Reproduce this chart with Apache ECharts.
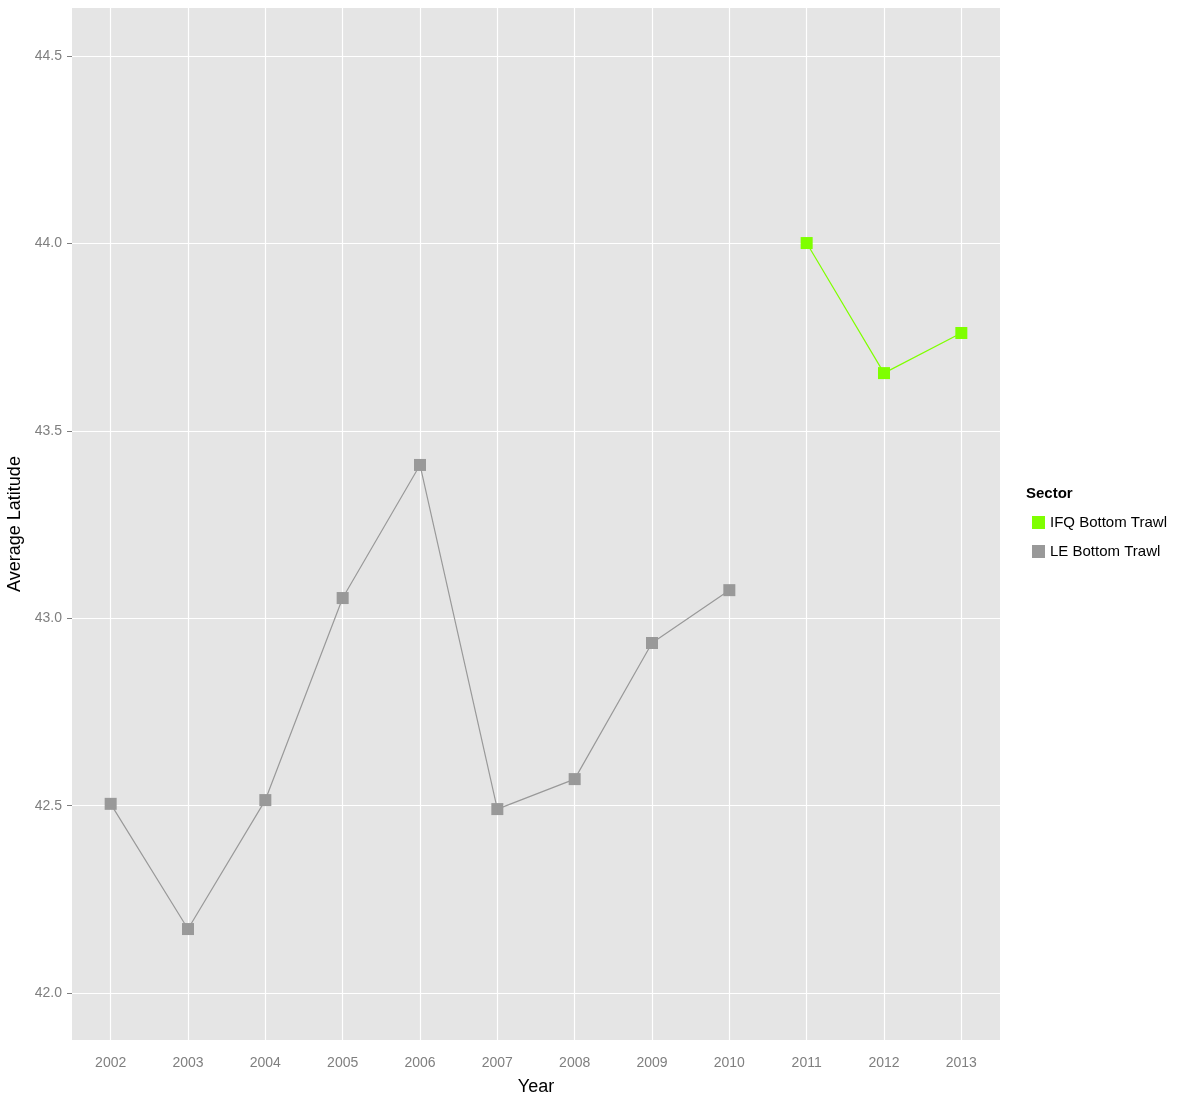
<!DOCTYPE html>
<html><head><meta charset="utf-8">
<script src="https://cdn.jsdelivr.net/npm/echarts@6/dist/echarts.min.js"></script>
<style>html,body{margin:0;padding:0;background:#fff}#main{width:1196px;height:1099px}</style>
</head><body><div id="main"></div>
<script>
const years = ['2002','2003','2004','2005','2006','2007','2008','2009','2010','2011','2012','2013'];
const leValues = [42.505, 42.171, 42.515, 43.054, 43.409, 42.491, 42.571, 42.934, 43.075, null, null, null];
const ifqValues = [null, null, null, null, null, null, null, null, null, 44.001, 43.654, 43.761];
const yTicks = [42.0, 42.5, 43.0, 43.5, 44.0, 44.5];

let chart = echarts.init(document.getElementById('main'));
let grid = { color: '#fff', width: 1.2, type: 'solid' };
let gridLines = years.map(y => ({ xAxis: y })).concat(yTicks.map(v => ({ yAxis: v })));
chart.setOption({
    animation: false,
    textStyle: { fontFamily: 'Liberation Sans, Arial, sans-serif' },
    grid: { left: 72, right: 196, top: 8, bottom: 59, show: true, backgroundColor: '#e5e5e5', borderWidth: 0,
        containLabel: false, outerBoundsMode: 'none' },
    xAxis: {
        type: 'category', data: years, boundaryGap: true,
        name: 'Year', nameLocation: 'middle', nameGap: 38,
        nameTextStyle: { fontSize: 18, color: '#000' },
        axisLine: { show: false },
        axisTick: { alignWithLabel: true, length: 5, lineStyle: { color: '#7f7f7f' } },
        axisLabel: { fontSize: 14, color: '#7f7f7f', margin: 16 },
        splitLine: { show: false }
    },
    yAxis: {
        type: 'value', min: 41.875, max: 44.628,
        name: 'Average Latitude', nameLocation: 'middle', nameGap: 46,
        nameTextStyle: { fontSize: 18, color: '#000' },
        axisLine: { show: false },
        axisTick: { show: true, length: 5, customValues: yTicks, lineStyle: { color: '#7f7f7f' } },
        axisLabel: { fontSize: 14, color: '#7f7f7f', margin: 10, customValues: yTicks, formatter: v => v.toFixed(1) },
        splitLine: { show: false }
    },
    legend: {
        orient: 'vertical', left: 1027, top: 510, itemGap: 14,
        icon: 'rect', itemWidth: 13, itemHeight: 13,
        textStyle: { fontSize: 15, color: '#000' },
        data: ['IFQ Bottom Trawl', 'LE Bottom Trawl']
    },
    graphic: [{ type: 'text', left: 1026, top: 486, style: { text: 'Sector', font: 'bold 15px Liberation Sans, Arial', fill: '#000' } }],
    series: [
        {
            name: 'IFQ Bottom Trawl', type: 'line', data: ifqValues,
            symbol: 'rect', symbolSize: 12, color: '#7fff00',
            lineStyle: { width: 1.2 }, z: 3
        },
        {
            name: 'LE Bottom Trawl', type: 'line', data: leValues,
            symbol: 'rect', symbolSize: 12, color: '#999999',
            lineStyle: { width: 1.2 }, z: 3,
            markLine: { silent: true, symbol: 'none', label: { show: false }, lineStyle: grid, z: 1, data: gridLines }
        }
    ]
});
</script></body></html>
